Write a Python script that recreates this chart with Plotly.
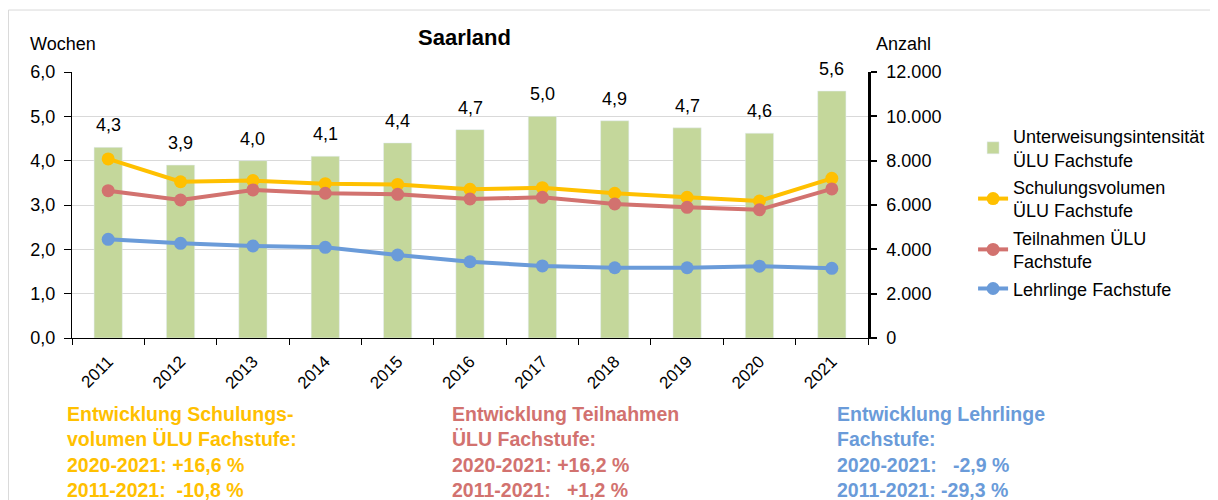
import plotly.graph_objects as go

years = ["2011", "2012", "2013", "2014", "2015", "2016", "2017", "2018", "2019", "2020", "2021"]
intensitaet = [4.3, 3.9, 4.0, 4.1, 4.4, 4.7, 5.0, 4.9, 4.74, 4.62, 5.57]
schulungsvolumen = [8080, 7050, 7100, 6960, 6930, 6710, 6780, 6530, 6350, 6180, 7205]
teilnahmen = [6645, 6225, 6680, 6530, 6480, 6270, 6345, 6045, 5895, 5785, 6725]
lehrlinge = [4450, 4270, 4150, 4090, 3745, 3440, 3250, 3170, 3170, 3240, 3145]

names = ["Unterweisungsintensität<br>ÜLU Fachstufe",
         "Schulungsvolumen<br>ÜLU Fachstufe",
         "Teilnahmen ÜLU<br>Fachstufe",
         "Lehrlinge Fachstufe"]

bottom_texts = [
    "Entwicklung Schulungs-<br>volumen ÜLU Fachstufe:<br>2020-2021: +16,6 %<br>2011-2021: \u00a0-10,8 %",
    "Entwicklung Teilnahmen<br>ÜLU Fachstufe:<br>2020-2021: +16,2 %<br>2011-2021: \u00a0\u00a0+1,2 %",
    "Entwicklung Lehrlinge<br>Fachstufe:<br>2020-2021: \u00a0\u00a0-2,9 %<br>2011-2021: -29,3 %",
]

C_BAR = "#C4D79B"
C_Y = "#FFC000"
C_R = "#D2726F"
C_B = "#6A9BD9"
FONT = "Arial, Liberation Sans, sans-serif"

fig = go.Figure()
fig.add_trace(go.Bar(x=years, y=intensitaet, name=names[0], marker_color=C_BAR,
                     yaxis="y", legendgroup="a"))
for vals, nm, col, g in [(schulungsvolumen, names[1], C_Y, "b"),
                         (teilnahmen, names[2], C_R, "c"),
                         (lehrlinge, names[3], C_B, "d")]:
    fig.add_trace(go.Scatter(x=years, y=vals, name=nm, mode="lines+markers",
                             line=dict(color=col, width=4), marker=dict(color=col, size=13),
                             yaxis="y2", legendgroup=g))

annotations = []
for i, v in enumerate(intensitaet):
    annotations.append(dict(x=i, y=v, xref="x", yref="y", text=f"{v:.1f}".replace(".", ","),
                            showarrow=False, yanchor="middle", yshift=22,
                            font=dict(size=18, color="black", family=FONT)))

annotations += [
    dict(x=0.4925, y=1.128, xref="paper", yref="paper", text="<b>Saarland</b>", showarrow=False,
         font=dict(size=22, color="black", family=FONT), xanchor="center", yanchor="middle"),
    dict(x=-0.0553, y=1.105, xref="paper", yref="paper", text="Wochen", showarrow=False,
         font=dict(size=18, color="black", family=FONT), xanchor="left", yanchor="middle"),
    dict(x=1.0075, y=1.105, xref="paper", yref="paper", text="Anzahl", showarrow=False,
         font=dict(size=18, color="black", family=FONT), xanchor="left", yanchor="middle"),
]
for xp, txt, col in zip([-0.0088, 0.4749, 0.9585], bottom_texts, [C_Y, C_R, C_B]):
    annotations.append(dict(x=xp, y=-0.236, xref="paper", yref="paper", text=f"<b>{txt}</b>",
                            showarrow=False, xanchor="left", yanchor="top", align="left",
                            font=dict(size=19.5, color=col, family=FONT)))

fig.update_layout(
    width=1210, height=492,
    margin=dict(l=64, r=350, t=64, b=162, autoexpand=False),
    paper_bgcolor="white", plot_bgcolor="white",
    separators=",.",
    bargap=0.61,
    font=dict(family=FONT, size=18, color="black"),
    showlegend=True,
    legend=dict(x=1.132, y=0.8275, xanchor="left", yanchor="top",
                font=dict(size=18, family=FONT, color="black"),
                tracegroupgap=1, bgcolor="rgba(0,0,0,0)"),
    xaxis=dict(type="category", range=[-0.5, len(years) - 0.5], showline=True,
               linecolor="black", linewidth=1,
               ticks="outside", tickson="boundaries", ticklen=6, tickcolor="black",
               tickangle=-45, tickfont=dict(size=17), showgrid=False, ticklabelstandoff=6),
    yaxis=dict(range=[0, 6], dtick=1, tickformat=".1f", showline=True, linecolor="black",
               linewidth=1, ticks="outside", ticklen=7, tickcolor="black",
               showgrid=True, gridcolor="#D9D9D9", gridwidth=1, zeroline=False,
               tickfont=dict(size=18), ticklabelstandoff=5),
    yaxis2=dict(range=[0, 12000], dtick=2000, tickformat=",.0f", overlaying="y", side="right",
                showline=True, linecolor="black", linewidth=2.5, ticks="outside", ticklen=6,
                tickwidth=2, tickcolor="black", showgrid=False, zeroline=False,
                tickfont=dict(size=18), ticklabelstandoff=6),
    annotations=annotations,
    shapes=[dict(type="rect", xref="paper", yref="paper", x0=-0.0798, x1=1.4334,
                 y0=-0.68, y1=1.233, line=dict(color="#D9D9D9", width=1), layer="below")],
)

fig.write_html("out.html")
